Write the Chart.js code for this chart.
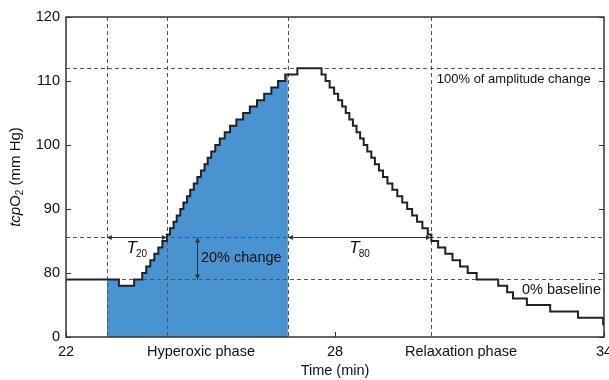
<!DOCTYPE html>
<html lang="en">
<head>
<meta charset="UTF-8">
<title>tcpO2 hyperoxic response</title>
<script src="https://cdn.jsdelivr.net/npm/chart.js"></script>
<style>
  html, body { margin: 0; padding: 0; background: #fff; }
</style>
</head>
<body>
<canvas id="chart" width="609" height="380"></canvas>
<script>
// start time of each 1 mm Hg step and its level
const stepTimes = [
  22.00, 23.18, 23.52, 23.70, 23.79, 23.88, 23.97, 24.06, 24.15, 24.25,
  24.32, 24.40, 24.47, 24.55, 24.62, 24.70, 24.77, 24.85, 24.93, 25.01,
  25.09, 25.16, 25.24, 25.33, 25.43, 25.54, 25.66, 25.80, 25.95, 26.10,
  26.26, 26.42, 26.58, 26.73, 26.89, 27.16,
  27.70, 27.79, 27.88, 27.98, 28.07, 28.16, 28.24, 28.32, 28.40, 28.48,
  28.56, 28.64, 28.72, 28.81, 28.89, 28.98, 29.07, 29.17, 29.28, 29.39,
  29.50, 29.61, 29.72, 29.83, 29.95, 30.07, 30.15, 30.30, 30.46, 30.62,
  30.79, 30.96, 31.16, 31.64, 31.84, 31.97, 32.28, 32.80, 33.42, 33.98, 34.00
];
const stepLevels = [
  79, 78, 79, 80, 81, 82, 83, 84, 85, 86,
  87, 88, 89, 90, 91, 92, 93, 94, 95, 96,
  97, 98, 99, 100, 101, 102, 103, 104, 105, 106,
  107, 108, 109, 110, 111, 112,
  111, 110, 109, 108, 107, 106, 105, 104, 103, 102,
  101, 100, 99, 98, 97, 96, 95, 94, 93, 92,
  91, 90, 89, 88, 87, 86, 85, 84, 83, 82,
  81, 80, 79, 78, 77, 76, 75, 74, 73, 72, 72
];

const yTickValues = [70, 80, 90, 100, 110, 120];
const yTickLabels = ['0', '80', '90', '100', '110', '120'];   // broken axis: 0 sits at 70
const xTickValues = [22, 25.01, 28, 30.81, 34];
const xTickLabels = ['22', 'Hyperoxic phase', '28', 'Relaxation phase', '34'];
const xNumericTicks = [22, 28, 34];

const phaseLines = [22.91, 24.25, 26.95, 30.14];   // start, T20, end of hyperoxia, T80
const levelLines = [112, 85.6, 79];                 // 100 %, 20 %, 0 % baseline
const fillRange = [22.91, 26.95];

const FONT = "'Liberation Sans', Arial, Helvetica, sans-serif";

function levelAt(t) {
  let v = stepLevels[0];
  stepTimes.forEach((s, i) => { if (s <= t) v = stepLevels[i]; });
  return v;
}

const lineData = stepTimes.map((t, i) => ({ x: t, y: stepLevels[i] }));
const fillData = [{ x: fillRange[0], y: levelAt(fillRange[0]) }];
stepTimes.forEach((t, i) => {
  if (t > fillRange[0] && t < fillRange[1]) fillData.push({ x: t, y: stepLevels[i] });
});
fillData.push({ x: fillRange[1], y: levelAt(fillRange[1]) });

function arrow(ctx, x1, y1, x2, y2) {
  const a = Math.atan2(y2 - y1, x2 - x1), L = 5, W = 2.5;
  ctx.beginPath(); ctx.moveTo(x1, y1); ctx.lineTo(x2, y2); ctx.stroke();
  [[x1, y1, a + Math.PI], [x2, y2, a]].forEach(([px, py, ang]) => {
    ctx.beginPath();
    ctx.moveTo(px, py);
    ctx.lineTo(px - L * Math.cos(ang) + W * Math.sin(ang), py - L * Math.sin(ang) - W * Math.cos(ang));
    ctx.lineTo(px - L * Math.cos(ang) - W * Math.sin(ang), py - L * Math.sin(ang) + W * Math.cos(ang));
    ctx.closePath(); ctx.fill();
  });
}

const decor = {
  id: 'decor',
  beforeDatasetDraw(chart, args) {
    if (args.index !== 0) return;
    const { ctx, chartArea: a, scales: { x, y } } = chart;
    ctx.save();
    ctx.strokeStyle = '#555'; ctx.lineWidth = 1; ctx.setLineDash([4, 3]);
    phaseLines.forEach(t => {
      const px = Math.round(x.getPixelForValue(t)) + 0.5;
      ctx.beginPath(); ctx.moveTo(px, a.top); ctx.lineTo(px, a.bottom); ctx.stroke();
    });
    levelLines.forEach(v => {
      const py = Math.round(y.getPixelForValue(v)) + 0.5;
      ctx.beginPath(); ctx.moveTo(a.left, py); ctx.lineTo(a.right, py); ctx.stroke();
    });
    ctx.setLineDash([]);
    ctx.strokeStyle = '#333'; ctx.fillStyle = '#333';
    const yc = Math.round(y.getPixelForValue(levelLines[1])) + 0.5;
    arrow(ctx, x.getPixelForValue(phaseLines[0]), yc, x.getPixelForValue(phaseLines[1]), yc);
    arrow(ctx, x.getPixelForValue(phaseLines[2]), yc, x.getPixelForValue(phaseLines[3]), yc);
    const xv = Math.round(x.getPixelForValue(24.92)) + 0.5;
    arrow(ctx, xv, yc, xv, Math.round(y.getPixelForValue(levelLines[2])) + 0.5);
    ctx.restore();
  },
  afterDraw(chart) {
    const { ctx, chartArea: a, scales: { x, y } } = chart;
    ctx.save();
    // box and inward ticks
    ctx.strokeStyle = '#333'; ctx.lineWidth = 1.5;
    ctx.strokeRect(a.left, a.top, a.right - a.left, a.bottom - a.top);
    ctx.lineWidth = 1;
    yTickValues.forEach(v => {
      const py = Math.round(y.getPixelForValue(v)) + 0.5;
      ctx.beginPath();
      ctx.moveTo(a.left, py); ctx.lineTo(a.left + 5, py);
      ctx.moveTo(a.right, py); ctx.lineTo(a.right - 5, py);
      ctx.stroke();
    });
    xNumericTicks.forEach(t => {
      const px = Math.round(x.getPixelForValue(t)) + 0.5;
      ctx.beginPath(); ctx.moveTo(px, a.bottom); ctx.lineTo(px, a.bottom - 5); ctx.stroke();
    });

    // annotations
    ctx.fillStyle = '#111';
    ctx.textBaseline = 'middle'; ctx.textAlign = 'left';
    ctx.font = '14.5px ' + FONT;
    ctx.fillText('20% change', x.getPixelForValue(25.01), y.getPixelForValue(82.3));
    ctx.fillText('0% baseline', x.getPixelForValue(32.17), y.getPixelForValue(77.3));
    ctx.font = '13px ' + FONT;
    ctx.fillText('100% of amplitude change', x.getPixelForValue(30.27), y.getPixelForValue(110.2));

    ctx.textBaseline = 'alphabetic';
    [['20', 23.35], ['80', 28.32]].forEach(([sub, t]) => {
      const px = x.getPixelForValue(t), py = y.getPixelForValue(83.1);
      ctx.font = 'italic 17px ' + FONT;
      ctx.fillText('T', px, py);
      const w = ctx.measureText('T').width;
      ctx.font = '10px ' + FONT;
      ctx.fillText(sub, px + w - 1, py + 4);
    });

    // y title: tcpO2 (mm Hg)
    const parts = [
      { t: 'tcp', f: 'italic 15px ' + FONT, dy: 0 },
      { t: 'O', f: '15px ' + FONT, dy: 0 },
      { t: '2', f: '10px ' + FONT, dy: 4 },
      { t: ' (mm Hg)', f: '15px ' + FONT, dy: 0 }
    ];
    let total = 0;
    parts.forEach(p => { ctx.font = p.f; p.w = ctx.measureText(p.t).width; total += p.w; });
    ctx.translate(16, (a.top + a.bottom) / 2);
    ctx.rotate(-Math.PI / 2);
    ctx.textBaseline = 'middle';
    let cx = -total / 2;
    parts.forEach(p => { ctx.font = p.f; ctx.fillText(p.t, cx, p.dy); cx += p.w; });
    ctx.restore();
  }
};

new Chart(document.getElementById('chart'), {
  type: 'line',
  data: {
    datasets: [
      { data: lineData, borderColor: '#222', borderWidth: 2, stepped: true, pointRadius: 0, fill: false },
      { data: fillData, borderWidth: 0, borderColor: 'rgba(0,0,0,0)', backgroundColor: '#4a93d1',
        stepped: true, pointRadius: 0, fill: 'start' }
    ]
  },
  options: {
    responsive: false,
    animation: false,
    layout: { padding: { top: 17, right: 5, left: 0, bottom: 0 } },
    plugins: { legend: { display: false }, tooltip: { enabled: false } },
    scales: {
      x: {
        type: 'linear', min: 22, max: 34,
        grid: { display: false, drawTicks: false },
        border: { display: false },
        afterBuildTicks: s => { s.ticks = xTickValues.map(v => ({ value: v })); },
        ticks: {
          autoSkip: false, maxRotation: 0, minRotation: 0, padding: 6, color: '#111',
          font: { family: FONT, size: 14.5 },
          callback: v => xTickLabels[xTickValues.indexOf(v)]
        },
        title: { display: true, text: 'Time (min)', color: '#111',
          font: { family: FONT, size: 14.5 }, padding: { top: 0, bottom: 0 } },
        afterFit: s => { s.height = 43; s.paddingLeft = 0; s.paddingRight = 0; }
      },
      y: {
        min: 70, max: 120,
        grid: { display: false, drawTicks: false },
        border: { display: false },
        afterBuildTicks: s => { s.ticks = yTickValues.map(v => ({ value: v })); },
        ticks: {
          padding: 6, color: '#111', font: { family: FONT, size: 14.5 },
          callback: v => yTickLabels[yTickValues.indexOf(v)]
        },
        afterFit: s => { s.width = 66; s.paddingTop = 0; s.paddingBottom = 0; }
      }
    }
  },
  plugins: [decor]
});
</script>
</body>
</html>
